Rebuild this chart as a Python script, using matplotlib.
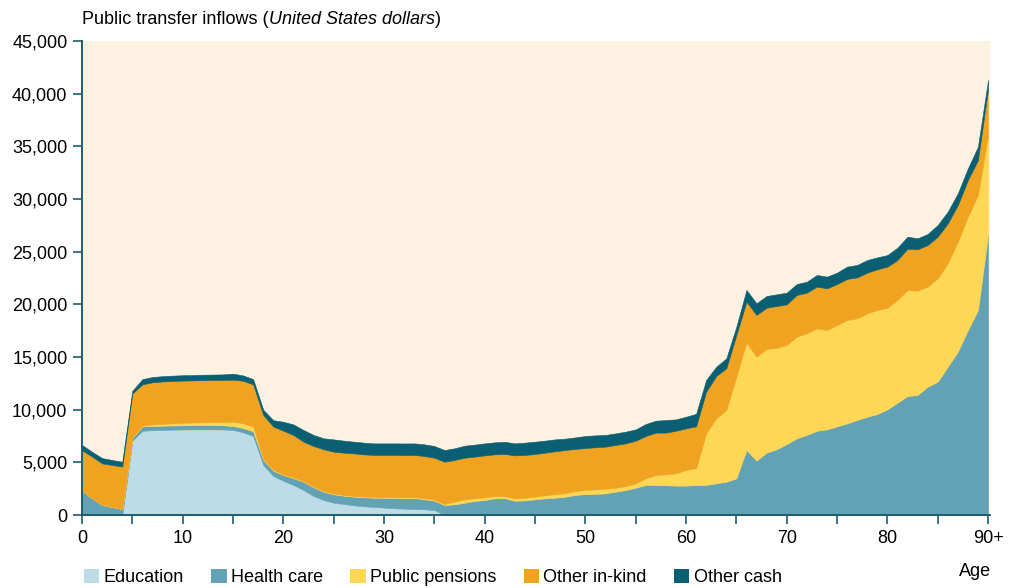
import matplotlib
matplotlib.use("Agg")
import matplotlib.pyplot as plt
from matplotlib.patches import Patch
from matplotlib.ticker import FuncFormatter, MultipleLocator
import numpy as np

# Per-capita public transfer inflows by age, split by transfer type (US dollars)
ages = list(range(0, 91))

education = [
    0, 0, 0, 0, 0, 7050, 8000, 8050, 8080, 8100,
    8120, 8130, 8130, 8130, 8120, 8080, 7850, 7500, 4750, 3700,
    3250, 2850, 2370, 1800, 1420, 1170, 1040, 920, 830, 760,
    700, 640, 600, 570, 540, 470, 0, 0, 0, 0,
    0, 0, 0, 0, 0, 0, 0, 0, 0, 0,
    0, 0, 0, 0, 0, 0, 0, 0, 0, 0,
    0, 0, 0, 0, 0, 0, 0, 0, 0, 0,
    0, 0, 0, 0, 0, 0, 0, 0, 0, 0,
    0, 0, 0, 0, 0, 0, 0, 0, 0, 0,
    0,
]

health_care = [
    2300, 1600, 950, 760, 570, 250, 420, 400, 400, 400,
    400, 400, 400, 400, 400, 370, 400, 450, 500, 500,
    550, 650, 790, 830, 790, 790, 790, 820, 850, 880,
    940, 980, 980, 1040, 950, 890, 950, 1010, 1170, 1330,
    1420, 1580, 1600, 1350, 1390, 1490, 1580, 1640, 1740, 1900,
    1990, 1990, 2060, 2210, 2370, 2590, 2850, 2850, 2820, 2790,
    2790, 2840, 2850, 3010, 3160, 3480, 6170, 5160, 5920, 6240,
    6740, 7280, 7600, 8000, 8130, 8420, 8700, 9020, 9330, 9590,
    10030, 10660, 11300, 11390, 12180, 12660, 14080, 15510, 17560, 19460,
    26600,
]

public_pensions = [
    0, 0, 0, 0, 0, 50, 80, 150, 170, 200,
    230, 250, 270, 290, 300, 420, 450, 450, 100, 80,
    50, 50, 60, 70, 70, 70, 70, 70, 70, 70,
    70, 80, 90, 90, 100, 100, 100, 260, 320, 250,
    260, 220, 180, 230, 250, 250, 290, 350, 320, 380,
    380, 450, 440, 380, 380, 420, 630, 950, 1040, 1170,
    1480, 1610, 4900, 6170, 6810, 9650, 10190, 9870, 9840, 9640,
    9400, 9650, 9650, 9720, 9430, 9620, 9810, 9650, 9820, 9870,
    9650, 9750, 10060, 9910, 9500, 9810, 9820, 10440, 10760, 10920,
    9400,
]

other_in_kind = [
    3850, 3950, 3950, 3990, 4030, 4200, 3900, 4000, 4030, 4020,
    4010, 4000, 4000, 4000, 4000, 3980, 4050, 4000, 4150, 4120,
    4150, 4050, 3740, 3850, 3960, 3980, 4020, 4040, 4010, 3990,
    3990, 4000, 4020, 4000, 4010, 3980, 4010, 3950, 3950, 3960,
    3980, 3960, 4020, 4080, 4060, 4050, 4050, 4060, 4110, 3990,
    3990, 3990, 3990, 4060, 4050, 4050, 4020, 4020, 3960, 4040,
    3960, 3970, 3960, 4020, 3960, 3960, 3890, 3960, 3920, 3960,
    3860, 3960, 3860, 3960, 3960, 3890, 3900, 3890, 3860, 3870,
    3900, 3800, 3920, 3920, 3950, 3950, 3790, 3480, 3480, 3320,
    4400,
]

other_cash = [
    500, 450, 500, 470, 460, 250, 500, 500, 500, 510,
    510, 510, 520, 510, 530, 570, 500, 500, 500, 600,
    850, 1000, 1110, 1050, 1040, 1170, 1140, 1110, 1110, 1100,
    1100, 1100, 1100, 1100, 1110, 1110, 1110, 1110, 1140, 1140,
    1140, 1140, 1150, 1140, 1170, 1170, 1140, 1130, 1080, 1100,
    1140, 1130, 1110, 1100, 1110, 1070, 1140, 1130, 1200, 1080,
    1100, 1180, 1110, 880, 940, 790, 1110, 1110, 1110, 1110,
    1110, 1040, 1040, 1110, 1110, 1080, 1170, 1180, 1200, 1130,
    1100, 1170, 1140, 1050, 1050, 1110, 1110, 1110, 1110, 1270,
    900,
]

series_names = ["Education", "Health care", "Public pensions", "Other in-kind", "Other cash"]
series_colors = ["#bddce8", "#63a2b5", "#ffd757", "#f0a321", "#0a5f72"]

x_tick_values = [0, 10, 20, 30, 40, 50, 60, 70, 80, 90]
x_tick_labels = ["0", "10", "20", "30", "40", "50", "60", "70", "80", "90+"]

plt.rcParams["font.family"] = ["Liberation Sans", "DejaVu Sans"]

W, H = 1009, 588
fig = plt.figure(figsize=(W / 100, H / 100), dpi=100)
fig.patch.set_facecolor("white")

ax_left, ax_right, ax_top, ax_bottom = 82, 990, 41, 515
ax = fig.add_axes([ax_left / W, 1 - ax_bottom / H,
                   (ax_right - ax_left) / W, (ax_bottom - ax_top) / H])
ax.set_facecolor("#fdf1e2")

stack = ax.stackplot(ages, education, health_care, public_pensions, other_in_kind,
                     other_cash, colors=series_colors, labels=series_names)
for poly, col in zip(stack, series_colors):
    poly.set_edgecolor(col)
    poly.set_linewidth(0.4)

px_per_year = 10.067
ax.set_xlim(0, (ax_right - ax_left) / px_per_year)
ax.set_ylim(0, 45000)

axis_color = "#1c5e70"
for side in ("top", "right"):
    ax.spines[side].set_visible(False)
for side in ("left", "bottom"):
    ax.spines[side].set_color(axis_color)
    ax.spines[side].set_linewidth(1.4)

ax.set_xticks(x_tick_values)
ax.set_xticklabels(x_tick_labels)
ax.xaxis.set_minor_locator(MultipleLocator(5))
ax.yaxis.set_major_locator(MultipleLocator(5000))
ax.yaxis.set_major_formatter(FuncFormatter(lambda v, _: f"{int(v):,}"))

ax.tick_params(axis="both", which="both", direction="out", color=axis_color,
               width=1.2, length=6.5, labelsize=13, labelcolor="black")
ax.tick_params(axis="y", pad=4)
ax.tick_params(axis="x", pad=4)

# Title with italic unit
t1 = fig.text(ax_left / W, 1 - 19 / H, "Public transfer inflows (", fontsize=13,
              ha="left", va="center")
t2 = ax.annotate("United States dollars", xy=(1, 0), xycoords=t1, va="bottom",
                 ha="left", fontsize=13, style="italic", annotation_clip=False)
ax.annotate(")", xy=(1, 0), xycoords=t2, va="bottom", ha="left", fontsize=13,
            annotation_clip=False)

fig.text(975 / W, 1 - 571 / H, "Age", fontsize=13, ha="center", va="center")

handles = [Patch(facecolor=c, edgecolor="none", label=n)
           for n, c in zip(series_names, series_colors)]
fig.legend(handles=handles, loc="upper left", bbox_to_anchor=(84 / W, 1 - 569 / H),
           ncol=5, frameon=False, fontsize=13, handlelength=0.85, handleheight=0.8,
           handletextpad=0.25, columnspacing=1.5, borderpad=0, borderaxespad=0)

fig.savefig("out.png", dpi=100)
